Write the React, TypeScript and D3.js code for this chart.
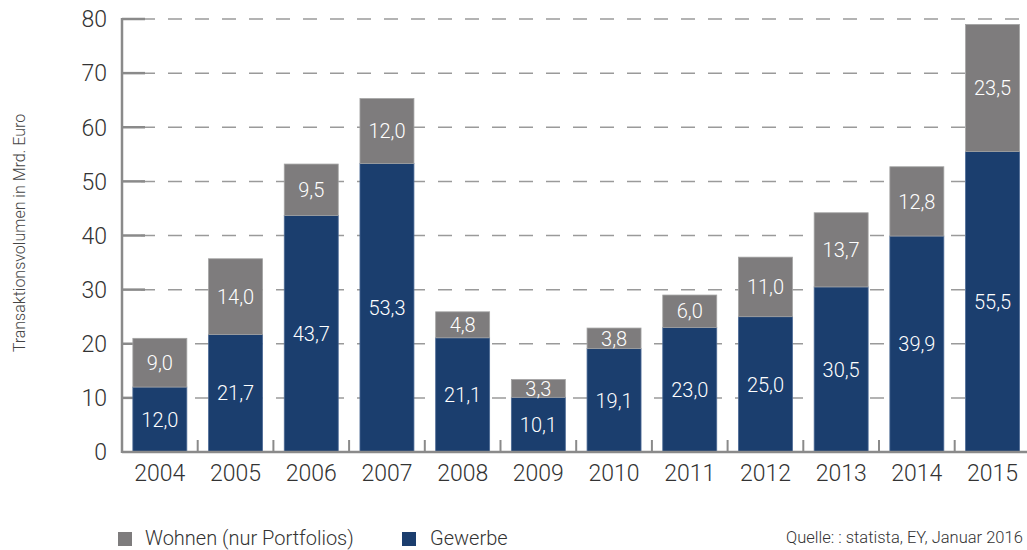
import React from "react";
import * as d3 from "d3";

const years = ["2004","2005","2006","2007","2008","2009","2010","2011","2012","2013","2014","2015"];
const gewerbe = [12.0,21.7,43.7,53.3,21.1,10.1,19.1,23.0,25.0,30.5,39.9,55.5];
const wohnen = [9.0,14.0,9.5,12.0,4.8,3.3,3.8,6.0,11.0,13.7,12.8,23.5];
const yTicks = [0,10,20,30,40,50,60,70,80];

const GREY = "#7e7c7d";
const NAVY = "#1b3e6e";
const FONT = "Roboto, 'Liberation Sans', Arial, sans-serif";

const fmt = (v: number) => v.toFixed(1).replace(".", ",");

export default function App() {
  const W = 1027, H = 550;
  const x0 = 122, x1 = 122 + 12 * 75.7;
  const x = d3.scaleBand<string>().domain(years).range([x0, x1]).paddingInner(0.287).paddingOuter(0.1435);
  const y = d3.scaleLinear().domain([0, 80]).range([452, 19]);
  const bw = x.bandwidth();
  const step = x.step();

  return (
    <svg width={W} height={H} style={{ position: "absolute", left: 0, top: 0, background: "#fff" }} fontFamily={FONT}>
      {/* gridlines */}
      {yTicks.filter(t => t > 0).map(t => (
        <line key={"g" + t} x1={141} x2={W} y1={y(t)} y2={y(t)} stroke="#9a9a9a" strokeWidth={1.5} strokeDasharray="14 13" />
      ))}
      {/* y tick marks */}
      {yTicks.filter(t => t > 0).map(t => (
        <line key={"t" + t} x1={x0} x2={145} y1={y(t)} y2={y(t)} stroke="#8a8a8a" strokeWidth={2.5} />
      ))}
      {/* bars */}
      {years.map((yr, i) => {
        const g = gewerbe[i], w = wohnen[i];
        const bx = x(yr)!;
        return (
          <g key={yr}>
            <rect x={bx} y={y(g)} width={bw} height={y(0) - y(g)} fill={NAVY} stroke="#4d6a95" strokeWidth={0.8} />
            <rect x={bx} y={y(g + w)} width={bw} height={y(g) - y(g + w)} fill={GREY} stroke="#a3a3a3" strokeWidth={0.8} />
            <text x={bx + bw / 2} y={y(g / 2)} dy="0.36em" textAnchor="middle" fill="#fff" fontSize={20} fontWeight={300}>{fmt(g)}</text>
            <text x={bx + bw / 2} y={y(g + w / 2)} dy="0.36em" textAnchor="middle" fill="#fff" fontSize={20} fontWeight={300}>{fmt(w)}</text>
          </g>
        );
      })}
      {/* y axis line */}
      <line x1={x0} x2={x0} y1={y(80) - 1} y2={y(0) + 1} stroke="#8a8a8a" strokeWidth={2.5} />
      {/* x axis line */}
      <line x1={x0} x2={W} y1={y(0)} y2={y(0)} stroke="#8a8a8a" strokeWidth={2.5} />
      {/* x ticks between bars */}
      {years.slice(1).map((yr, i) => (
        <line key={"xt" + yr} x1={x0 + (i + 1) * step} x2={x0 + (i + 1) * step} y1={y(0)} y2={y(0) - 12} stroke="#8a8a8a" strokeWidth={2} />
      ))}
      {/* y tick labels */}
      {yTicks.map(t => (
        <text key={"yl" + t} x={107} y={y(t)} dy="0.36em" textAnchor="end" fill="#333" fontSize={23} fontWeight={300}>{t}</text>
      ))}
      {/* x labels */}
      {years.map(yr => (
        <text key={"xl" + yr} x={x(yr)! + bw / 2} y={481} textAnchor="middle" fill="#333" fontSize={23} fontWeight={300}>{yr}</text>
      ))}
      {/* y axis title */}
      <text transform="translate(25,233) rotate(-90)" textAnchor="middle" fill="#444" fontSize={16} fontWeight={300}>Transaktionsvolumen in Mrd. Euro</text>
      {/* legend */}
      <rect x={118} y={532} width={14} height={14} fill={GREY} />
      <text x={145} y={545} fill="#333" fontSize={20} fontWeight={300}>Wohnen (nur Portfolios)</text>
      <rect x={402} y={532} width={14} height={14} fill={NAVY} />
      <text x={430} y={545} fill="#333" fontSize={20} fontWeight={300}>Gewerbe</text>
      {/* source */}
      <text x={786} y={543} fill="#333" fontSize={16.5} fontWeight={300}>Quelle: : statista, EY, Januar 2016</text>
    </svg>
  );
}
